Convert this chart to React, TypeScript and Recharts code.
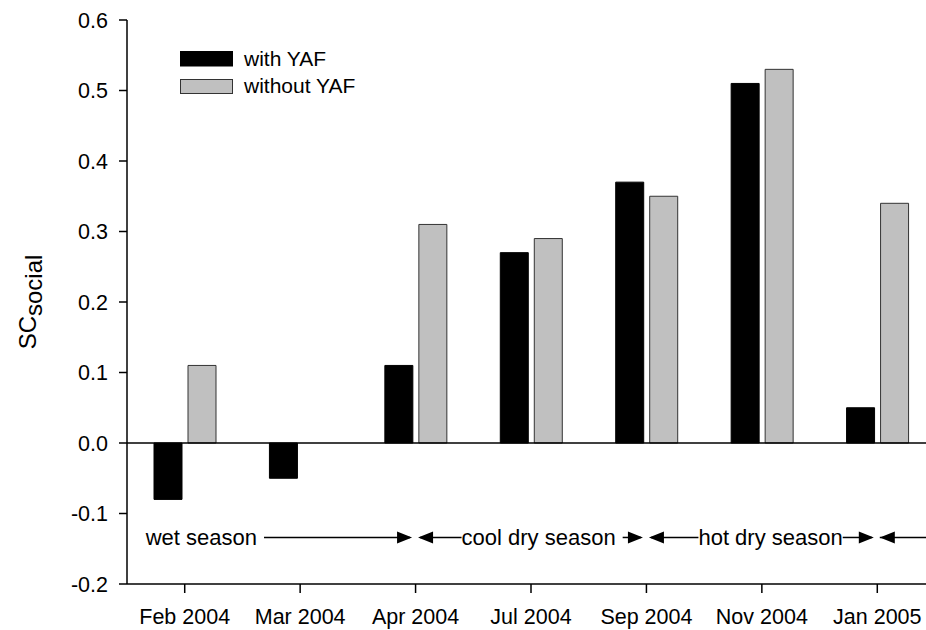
import React, { useLayoutEffect, useRef, useState } from 'react';
import { BarChart, Bar, XAxis, YAxis, ReferenceLine, Legend } from 'recharts';

const categories = ['Feb 2004', 'Mar 2004', 'Apr 2004', 'Jul 2004', 'Sep 2004', 'Nov 2004', 'Jan 2005'];
const withYAF = [-0.08, -0.05, 0.11, 0.27, 0.37, 0.51, 0.05];
const withoutYAF: (number | null)[] = [0.11, null, 0.31, 0.29, 0.35, 0.53, 0.34];
const yTicks = [-0.2, -0.1, 0.0, 0.1, 0.2, 0.3, 0.4, 0.5, 0.6];
const seriesNames = ['with YAF', 'without YAF'];

const seasonLabels = ['wet season', 'cool dry season', 'hot dry season', ''];
const seasonStart = ['Feb 2004', 'Apr 2004', 'Sep 2004', 'Jan 2005'];
const seasonEnd = ['Apr 2004', 'Sep 2004', 'Jan 2005', 'Jan 2005'];
const seasonY = -0.134;

const data = categories.map((c, i) => ({ month: c, withYAF: withYAF[i], withoutYAF: withoutYAF[i] }));

const FONT = 'Liberation Sans, Arial, Helvetica, sans-serif';

type SeasonCfg = {
  textStart: number;
  leftArrow: boolean;
  rightArrow: boolean;
  gapL: number;
  gapR: number;
  tail?: number;
};

const seasonCfg: SeasonCfg[] = [
  { textStart: -39, leftArrow: false, rightArrow: true, gapL: 0, gapR: 7 },
  { textStart: 46, leftArrow: true, rightArrow: true, gapL: 0, gapR: 7 },
  { textStart: 52, leftArrow: true, rightArrow: true, gapL: 0, gapR: 0 },
  { textStart: 0, leftArrow: true, rightArrow: false, gapL: 0, gapR: 0, tail: 80 },
];

const AH_LEN = 15;
const AH_HALF = 6;

function SeasonArrow(props: any) {
  const { x1, x2, y, label, cfg } = props;
  const ref = useRef<SVGTextElement>(null);
  const [w, setW] = useState(label ? label.length * 10 : 0);
  useLayoutEffect(() => {
    if (ref.current && label) {
      const l = ref.current.getComputedTextLength();
      if (Math.abs(l - w) > 0.5) setW(l);
    }
  });
  const leftTip = x1 + 2.5;
  const rightTip = x2 - 3.5;
  const els: React.ReactNode[] = [];
  if (cfg.tail) {
    els.push(<line key="t" x1={leftTip} x2={x1 + cfg.tail} y1={y} y2={y} stroke="#000" strokeWidth={1.5} />);
    els.push(
      <polygon key="la" points={`${leftTip},${y} ${leftTip + AH_LEN},${y - AH_HALF} ${leftTip + AH_LEN},${y + AH_HALF}`} fill="#000" />
    );
    return <g>{els}</g>;
  }
  const tStart = x1 + cfg.textStart;
  const tEnd = tStart + w;
  els.push(
    <text key="txt" ref={ref} x={tStart} y={y + 8} fontSize={22} fontFamily={FONT} fill="#000" textAnchor="start">
      {label}
    </text>
  );
  if (cfg.leftArrow) {
    els.push(<line key="ll" x1={leftTip + 2} x2={tStart - cfg.gapL} y1={y} y2={y} stroke="#000" strokeWidth={1.5} />);
    els.push(
      <polygon key="la" points={`${leftTip},${y} ${leftTip + AH_LEN},${y - AH_HALF} ${leftTip + AH_LEN},${y + AH_HALF}`} fill="#000" />
    );
  }
  if (cfg.rightArrow) {
    els.push(<line key="rl" x1={tEnd + cfg.gapR} x2={rightTip - 2} y1={y} y2={y} stroke="#000" strokeWidth={1.5} />);
    els.push(
      <polygon key="ra" points={`${rightTip},${y} ${rightTip - AH_LEN},${y - AH_HALF} ${rightTip - AH_LEN},${y + AH_HALF}`} fill="#000" />
    );
  }
  return <g>{els}</g>;
}

const YLabel = (props: any) => {
  const vb = props.viewBox || { x: 0, y: 20, width: 127, height: 564 };
  const x = vb.x + 36;
  const y = vb.y + vb.height / 2;
  return (
    <text x={x} y={y} transform={`rotate(-90, ${x}, ${y})`} textAnchor="middle" fontSize={24} fontFamily={FONT} fill="#000">
      <tspan>SC</tspan>
      <tspan dy={6}>social</tspan>
    </text>
  );
};

const LegendContent = () => (
  <svg width={260} height={60} style={{ display: 'block', overflow: 'visible' }}>
    <rect x={0.5} y={0.5} width={52} height={14.5} fill="#000" stroke="#000" />
    <text x={64} y={14.5} fontSize={21} fontFamily={FONT} fill="#000">{seriesNames[0]}</text>
    <rect x={0.5} y={28.5} width={52} height={14} fill="#c0c0c0" stroke="#333" />
    <text x={64} y={42} fontSize={21} fontFamily={FONT} fill="#000">{seriesNames[1]}</text>
  </svg>
);

export default function App() {
  return (
    <div style={{ position: 'absolute', left: 0, top: 0, width: 926, height: 630, overflow: 'hidden', background: '#fff' }}>
      <BarChart
        width={935}
        height={630}
        data={data}
        margin={{ top: 20, right: 0, bottom: 0, left: 0 }}
        barSize={28}
        barGap={6}
      >
        <XAxis
          dataKey="month"
          height={46}
          tickSize={9}
          tickMargin={16}
          axisLine={{ stroke: '#000', strokeWidth: 1.5 }}
          tickLine={{ stroke: '#000', strokeWidth: 1.5 }}
          tick={{ fill: '#000', fontSize: 21.5, fontFamily: FONT }}
          interval={0}
        />
        <YAxis
          width={127}
          domain={[-0.2, 0.6]}
          ticks={yTicks}
          type="number"
          allowDataOverflow
          tickFormatter={(v: number) => v.toFixed(1)}
          tickSize={8}
          tickMargin={11}
          axisLine={{ stroke: '#000', strokeWidth: 1.5 }}
          tickLine={{ stroke: '#000', strokeWidth: 1.5 }}
          tick={{ fill: '#000', fontSize: 21.5, fontFamily: FONT }}
          label={<YLabel />}
        />
        <Legend
          layout="vertical"
          align="center"
          verticalAlign="middle"
          wrapperStyle={{ left: 180, top: 51, width: 260, height: 60 }}
          content={<LegendContent />}
        />
        <ReferenceLine y={0} stroke="#000" strokeWidth={1.5} />
        <Bar dataKey="withYAF" name={seriesNames[0]} fill="#000" stroke="#000" strokeWidth={1} isAnimationActive={false} />
        <Bar dataKey="withoutYAF" name={seriesNames[1]} fill="#c0c0c0" stroke="#333" strokeWidth={1} isAnimationActive={false} />
        {seasonLabels.map((lab, i) => (
          <ReferenceLine
            key={i}
            segment={[
              { x: seasonStart[i], y: seasonY },
              { x: seasonEnd[i], y: seasonY },
            ]}
            ifOverflow="visible"
            shape={(p: any) => (
              <SeasonArrow x1={p.x1} x2={p.x2} y={p.y1} label={lab} cfg={seasonCfg[i]} />
            )}
          />
        ))}
      </BarChart>
    </div>
  );
}
